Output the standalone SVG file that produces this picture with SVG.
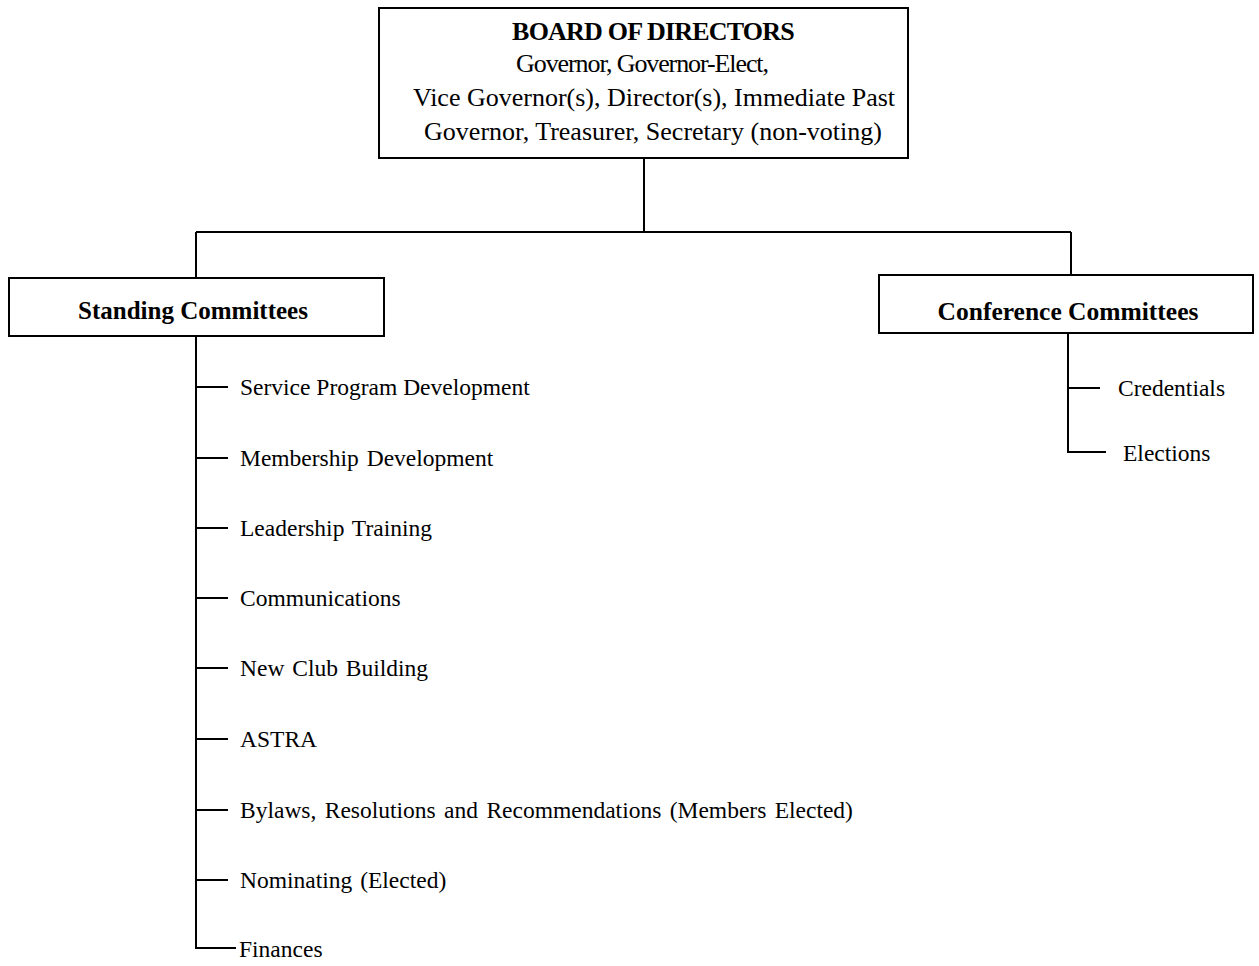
<svg xmlns="http://www.w3.org/2000/svg" width="1259" height="966" viewBox="0 0 1259 966">
<style>
.box{fill:#fff;stroke:#000;stroke-width:2}
.ln{stroke:#000;stroke-width:2;fill:none}
.t{font-family:"Liberation Serif","Times New Roman",serif;fill:#000}
.b{font-weight:bold}
</style>
<rect width="1259" height="966" fill="#fff"/>
<g id="connectors">
<path class="ln" d="M644 158V232M196 232H1071M196 232V278M1071 232V275"/>
<path class="ln" d="M196 336V948H236M196 387H228M196 458H228M196 528H228M196 598H228M196 668H228M196 739H228M196 810H228M196 880H228"/>
<path class="ln" d="M1068 333V452H1106M1068 388H1100"/>
</g>
<g id="board">
<rect class="box" x="379" y="8" width="529" height="150"/>
<text class="t b" x="653" y="40" font-size="26" text-anchor="middle" letter-spacing="-0.8">BOARD OF DIRECTORS</text>
<text class="t" x="642" y="72" font-size="26" text-anchor="middle" letter-spacing="-1.1">Governor, Governor-Elect,</text>
<text class="t" x="654" y="106" font-size="26" text-anchor="middle">Vice Governor(s), Director(s), Immediate Past</text>
<text class="t" x="653" y="140" font-size="26" text-anchor="middle">Governor, Treasurer, Secretary (non-voting)</text>
</g>
<g id="standing">
<rect class="box" x="9" y="278" width="375" height="58"/>
<text class="t b" x="193" y="319" font-size="25" text-anchor="middle">Standing Committees</text>
</g>
<g id="conference">
<rect class="box" x="879" y="275" width="374" height="58"/>
<text class="t b" x="1068" y="320" font-size="25.5" text-anchor="middle">Conference Committees</text>
</g>
<g id="items" class="t" font-size="23.5">
<text x="240" y="395">Service Program Development</text>
<text x="240" y="466" word-spacing="2">Membership Development</text>
<text x="240" y="536" word-spacing="2">Leadership Training</text>
<text x="240" y="606">Communications</text>
<text x="240" y="676" word-spacing="2">New Club Building</text>
<text x="240" y="747">ASTRA</text>
<text x="240" y="818" word-spacing="2.5">Bylaws, Resolutions and Recommendations (Members Elected)</text>
<text x="240" y="888" word-spacing="2">Nominating (Elected)</text>
<text x="239" y="957">Finances</text>
<text x="1118" y="396">Credentials</text>
<text x="1123" y="461">Elections</text>
</g>
</svg>
